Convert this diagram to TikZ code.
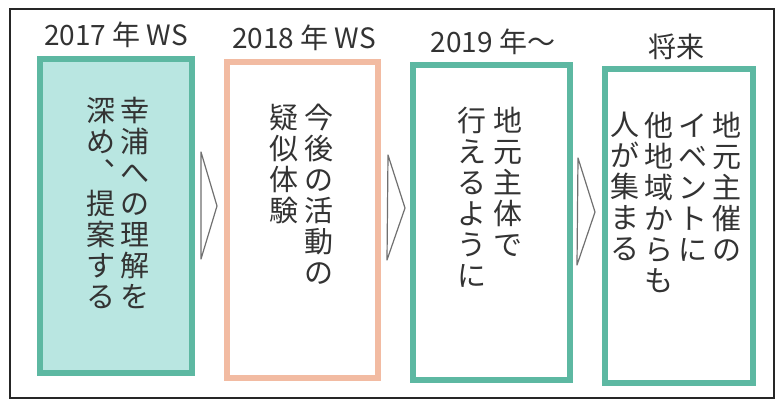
\documentclass[tikz,border=0pt]{standalone}
\usepackage{fontspec}
\newfontfamily\jp{Noto Sans CJK JP}
\definecolor{tealline}{HTML}{5DB8A2}
\definecolor{tealfill}{HTML}{B9E6E1}
\definecolor{salmon}{HTML}{F2BBA2}
\definecolor{ink}{HTML}{333333}
\definecolor{arrowgray}{HTML}{707070}
\begin{document}
\begin{tikzpicture}[x=1pt,y=-1pt,
  stagebox/.style={draw=tealline, line width=6pt, inner sep=0pt},
  head/.style={text=ink, font=\jp\fontsize{28}{30}\selectfont, inner sep=0pt, anchor=center},
  vcol/.style={text=ink, font=\jp\fontsize{29}{31}\selectfont, align=center, inner sep=0pt, anchor=north},
  chevron/.style={draw=arrowgray, line width=1.2pt, line join=round}]
\useasboundingbox (0,0) rectangle (782,408);
\fill[white] (0,0) rectangle (782,408);
% outer frame
\draw[line width=1.4pt, black!85] (10,9) rectangle (774,398);
% stage boxes
\node[stagebox, fill=tealfill, minimum width=152pt, minimum height=314pt] (b1) at (116,216) {};
\node[stagebox, draw=salmon, fill=white, minimum width=151pt, minimum height=316pt] (b2) at (302.5,220) {};
\node[stagebox, fill=white, minimum width=157pt, minimum height=315pt] (b3) at (491.5,222.5) {};
\node[stagebox, fill=white, minimum width=148pt, minimum height=314pt] (b4) at (679,226) {};
% headers
\node[head] (h1) at (116,35) {2017 年 WS};
\node[head] (h2) at (304,38) {2018 年 WS};
\node[head] (h3) at (493,42) {2019 年～};
\node[head] (h4) at (676,47) {将来};
% chevrons
\draw[chevron] (201,152) -- (217,206) -- (201,259) -- cycle;
\draw[chevron] (388,155) -- (405,208) -- (387,260) -- cycle;
\draw[chevron] (578,158) -- (595,212) -- (577,265) -- cycle;
% box 1 text
\node[vcol] (t1a) at (135,97) {幸\\浦\\へ\\の\\理\\解\\を};
\node[vcol] (t1b) at (101,97) {深\\め\\︑\\提\\案\\す\\る};
% box 2 text
\node[vcol] (t2a) at (319,104) {今\\後\\の\\活\\動\\の};
\node[vcol] (t2b) at (284,104) {疑\\似\\体\\験};
% box 3 text
\node[vcol] (t3a) at (508,107) {地\\元\\主\\体\\で};
\node[vcol] (t3b) at (472,107) {行\\え\\る\\よ\\う\\に};
% box 4 text
\node[vcol] (t4a) at (727,112) {地\\元\\主\\催\\の};
\node[vcol] (t4b) at (693,112) {\vphantom{地}イ\\ベ\\ン\\ト\\に};
\node[vcol] (t4c) at (659,112) {他\\地\\域\\か\\ら\\も};
\node[vcol] (t4d) at (625,112) {人\\が\\集\\ま\\る};
\end{tikzpicture}
\end{document}
